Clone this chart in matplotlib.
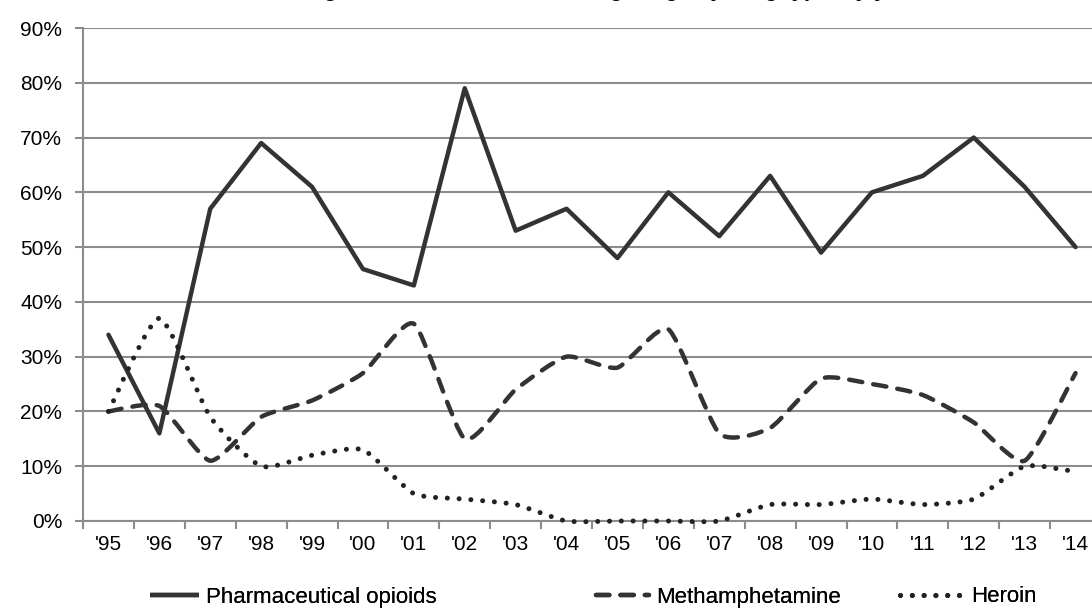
import matplotlib
matplotlib.use("Agg")
import matplotlib.pyplot as plt
from matplotlib.ticker import FixedLocator, PercentFormatter
from matplotlib.path import Path
from matplotlib.patches import PathPatch
from matplotlib.lines import Line2D

years = ["'95", "'96", "'97", "'98", "'99", "'00", "'01", "'02", "'03", "'04",
         "'05", "'06", "'07", "'08", "'09", "'10", "'11", "'12", "'13", "'14"]
pharma = [34, 16, 57, 69, 61, 46, 43, 79, 53, 57, 48, 60, 52, 63, 49, 60, 63, 70, 61, 50]
meth = [20, 21, 11, 19, 22, 27, 36, 15, 24, 30, 28, 35, 16, 17, 26, 25, 23, 18, 11, 27]
heroin = [20, 37, 19, 10, 12, 13, 5, 4, 3, 0, 0, 0, 0, 3, 3, 4, 3, 4, 10, 9]
series_names = ["Pharmaceutical opioids", "Methamphetamine", "Heroin"]

plt.rcParams['font.family'] = ['Liberation Sans', 'DejaVu Sans']

fig = plt.figure(figsize=(10.92, 6.09), dpi=100)
ax = fig.add_axes([83/1092, 1-521/609, 1018/1092, (521-28)/609])

x = list(range(len(years)))
col = '#333333'
LW = 3.2
pharma_style = dict(color=col, lw=LW, linestyle='-')
meth_style = dict(color=col, lw=LW, linestyle=(0, (3.0, 2.5)))
heroin_style = dict(color='#222222', lw=3.6, linestyle=(0, (0.01, 2.35)))
TENSION = 1 / 10


def smooth_path(xs, ys, k=TENSION):
    """Smoothed line: cubic Bezier segments passing through the data points."""
    n = len(xs)
    verts = [(xs[0], ys[0])]
    codes = [Path.MOVETO]
    for i in range(n - 1):
        x0, y0 = xs[max(i - 1, 0)], ys[max(i - 1, 0)]
        x1, y1 = xs[i], ys[i]
        x2, y2 = xs[i + 1], ys[i + 1]
        x3, y3 = xs[min(i + 2, n - 1)], ys[min(i + 2, n - 1)]
        c1 = (x1 + (x2 - x0) * k, y1 + (y2 - y0) * k)
        c2 = (x2 - (x3 - x1) * k, y2 - (y3 - y1) * k)
        verts += [c1, c2, (x2, y2)]
        codes += [Path.CURVE4] * 3
    return Path(verts, codes)


ax.plot(x, pharma, solid_capstyle='round', solid_joinstyle='round', clip_on=False,
        zorder=3, **pharma_style)
for ys, st in [(meth, meth_style), (heroin, heroin_style)]:
    p = PathPatch(smooth_path(x, ys), facecolor='none', edgecolor=st['color'],
                  lw=st['lw'], linestyle=st['linestyle'], capstyle='round',
                  joinstyle='round', clip_on=False, zorder=3)
    ax.add_patch(p)

ax.set_xlim(-0.5, len(years) - 0.5)
ax.set_ylim(0, 90)
ax.set_yticks(range(0, 91, 10))
ax.yaxis.set_major_formatter(PercentFormatter(decimals=0))
ax.set_xticks(x)
ax.set_xticklabels(years)
ax.xaxis.set_minor_locator(FixedLocator([i - 0.5 for i in range(len(years) + 1)]))
ax.tick_params(axis='x', which='major', length=0, pad=10, labelsize=15)
ax.tick_params(axis='x', which='minor', length=6, width=1.5, color='#8c8c8c')
ax.tick_params(axis='y', length=6, width=1.5, color='#8c8c8c', labelsize=15, pad=9)
ax.grid(axis='y', color='#8c8c8c', lw=1.5)
ax.set_axisbelow(True)
for s in ['top', 'right']:
    ax.spines[s].set_visible(False)
for s in ['left', 'bottom']:
    ax.spines[s].set_color('#8c8c8c')
    ax.spines[s].set_linewidth(1.5)

fig.text(0.5, 1 + 4/609, "Percent of drug overdose deaths involving drugs by drug type, by year",
         ha='center', va='baseline', fontsize=16, fontweight='bold')

handles = [
    Line2D([], [], solid_capstyle='butt', **pharma_style),
    Line2D([], [], dash_capstyle='round', **meth_style),
    Line2D([], [], dash_capstyle='round', **heroin_style),
]
leg_x = [150/1092, 596/1092, 900/1092]
hlen = [2.2, 2.4, 2.9]
for h, name, lx, hl in zip(handles, series_names, leg_x, hlen):
    lg = fig.legend([h], [name], loc='center left', bbox_to_anchor=(lx, 1 - 597/609),
                    frameon=False, fontsize=16, handlelength=hl, handletextpad=0.3,
                    borderpad=0, borderaxespad=0)
    fig.add_artist(lg)

fig.savefig("out.png", dpi=100)
